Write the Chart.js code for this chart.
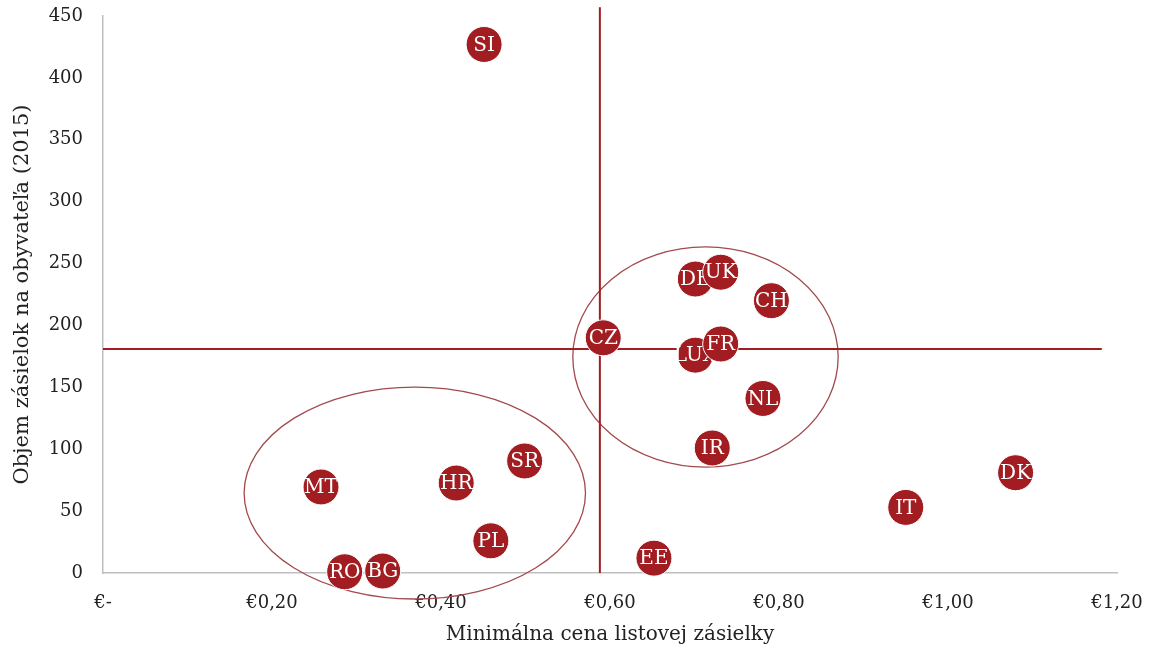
<!DOCTYPE html>
<html>
<head>
<meta charset="utf-8">
<script src="https://cdn.jsdelivr.net/npm/chart.js@4/dist/chart.umd.min.js"></script>
<style>
  html, body { margin: 0; padding: 0; background: #fff; }
  #wrap { width: 1151px; height: 650px; position: relative; }
</style>
</head>
<body>
<div id="wrap"><canvas id="c" width="1151" height="650"></canvas></div>
<script>
// ---- Data ----
const countries = ['SI','DE','UK','CH','CZ','LUX','FR','NL','IR','SR','HR','MT','PL','RO','BG','EE','IT','DK'];
const prices    = [0.451,0.701,0.731,0.791,0.592,0.701,0.731,0.781,0.721,0.499,0.418,0.258,0.459,0.286,0.331,0.652,0.950,1.080];
const volumes   = [427,237.5,243,220,190,176,185,141,101,90.5,72.7,69.5,26,1,1.6,12,53,81];

const xTicks = [0, 0.2, 0.4, 0.6, 0.8, 1.0, 1.2];
const yTicks = [0, 50, 100, 150, 200, 250, 300, 350, 400, 450];

// reference lines (data units)
const refPrice  = 0.588;   // vertical line
const refVolume = 181;     // horizontal line
const refPriceLineTop = 457;
const refVolumeLineEnd = 1.182;

// highlighted clusters (ellipses, data units)
const clusterCx = [0.369, 0.713];
const clusterCy = [64.6, 174.5];
const clusterRx = [0.202, 0.157];
const clusterRy = [85.6, 88.9];

const xTitle = 'Minimálna cena listovej zásielky';
const yTitle = 'Objem zásielok na obyvateľa (2015)';

// ---- Styles ----
const DARK = '#a11d21';
const FONT = "'DejaVu Serif', 'Liberation Serif', serif";

const n = countries.length;
const datasets = countries.map((c, i) => ({
  label: c,
  data: [{ x: prices[i], y: volumes[i] }],
  backgroundColor: DARK,
  borderColor: '#ffffff',
  borderWidth: 1,
  pointRadius: 18,
  pointHoverRadius: 18,
  clip: false,
  order: n - i
}));

const overlayPlugin = {
  id: 'overlay',
  beforeDatasetsDraw(chart) {
    const { ctx, scales: { x, y } } = chart;
    ctx.save();
    ctx.strokeStyle = '#a24a4d';
    ctx.lineWidth = 1.3;
    for (let k = 0; k < clusterCx.length; k++) {
      const cx = x.getPixelForValue(clusterCx[k]);
      const cy = y.getPixelForValue(clusterCy[k]);
      const rx = x.getPixelForValue(clusterCx[k] + clusterRx[k]) - cx;
      const ry = cy - y.getPixelForValue(clusterCy[k] + clusterRy[k]);
      ctx.beginPath();
      ctx.ellipse(cx, cy, rx, ry, 0, 0, Math.PI * 2);
      ctx.stroke();
    }
    ctx.strokeStyle = DARK;
    ctx.lineWidth = 2;
    ctx.beginPath();
    const vx = x.getPixelForValue(refPrice);
    ctx.moveTo(vx, y.getPixelForValue(refPriceLineTop));
    ctx.lineTo(vx, y.getPixelForValue(0));
    const hy = y.getPixelForValue(refVolume);
    ctx.moveTo(x.getPixelForValue(0), hy);
    ctx.lineTo(x.getPixelForValue(refVolumeLineEnd), hy);
    ctx.stroke();
    ctx.restore();
  },
  afterDatasetDraw(chart, args) {
    const { ctx } = chart;
    const el = args.meta.data[0];
    if (!el) return;
    ctx.save();
    ctx.fillStyle = '#ffffff';
    ctx.font = "20px " + FONT;
    ctx.textAlign = 'center';
    ctx.textBaseline = 'middle';
    ctx.fillText(countries[args.index], el.x, el.y + 1);
    ctx.restore();
  }
};

new Chart(document.getElementById('c'), {
  type: 'scatter',
  data: { datasets },
  options: {
    responsive: false,
    animation: false,
    events: [],
    layout: { autoPadding: false, padding: { left: 0, right: 34, top: 16, bottom: 0 } },
    plugins: { legend: { display: false }, tooltip: { enabled: false } },
    scales: {
      x: {
        type: 'linear',
        min: 0, max: 1.2,
        afterBuildTicks(scale) { scale.ticks = xTicks.map(v => ({ value: v })); },
        afterFit(scale) { scale.height = 77; scale.paddingLeft = 10; scale.paddingRight = 10; },
        grid: { display: false, drawTicks: false },
        border: { display: true, color: '#bfbfbf', width: 1.5 },
        ticks: {
          color: '#222',
          font: { family: FONT, size: 18 },
          padding: 20,
          maxRotation: 0,
          callback: v => v === 0 ? '€-' : '€' + Number(v).toFixed(2).replace('.', ',')
        },
        title: {
          display: true, text: xTitle, color: '#222',
          font: { family: FONT, size: 20 },
          padding: { top: 0, bottom: 3 }
        }
      },
      y: {
        type: 'linear',
        min: 0, max: 450,
        afterBuildTicks(scale) { scale.ticks = yTicks.map(v => ({ value: v })); },
        afterFit(scale) { scale.width = 103; scale.paddingTop = 8; scale.paddingBottom = 8; },
        grid: { display: false, drawTicks: false },
        border: { display: true, color: '#bfbfbf', width: 1.5 },
        ticks: {
          color: '#222',
          font: { family: FONT, size: 18 },
          padding: 20
        },
        title: {
          display: true, text: yTitle, color: '#222',
          font: { family: FONT, size: 21 },
          padding: { top: 10, bottom: 0 }
        }
      }
    }
  },
  plugins: [overlayPlugin]
});
</script>
</body>
</html>
